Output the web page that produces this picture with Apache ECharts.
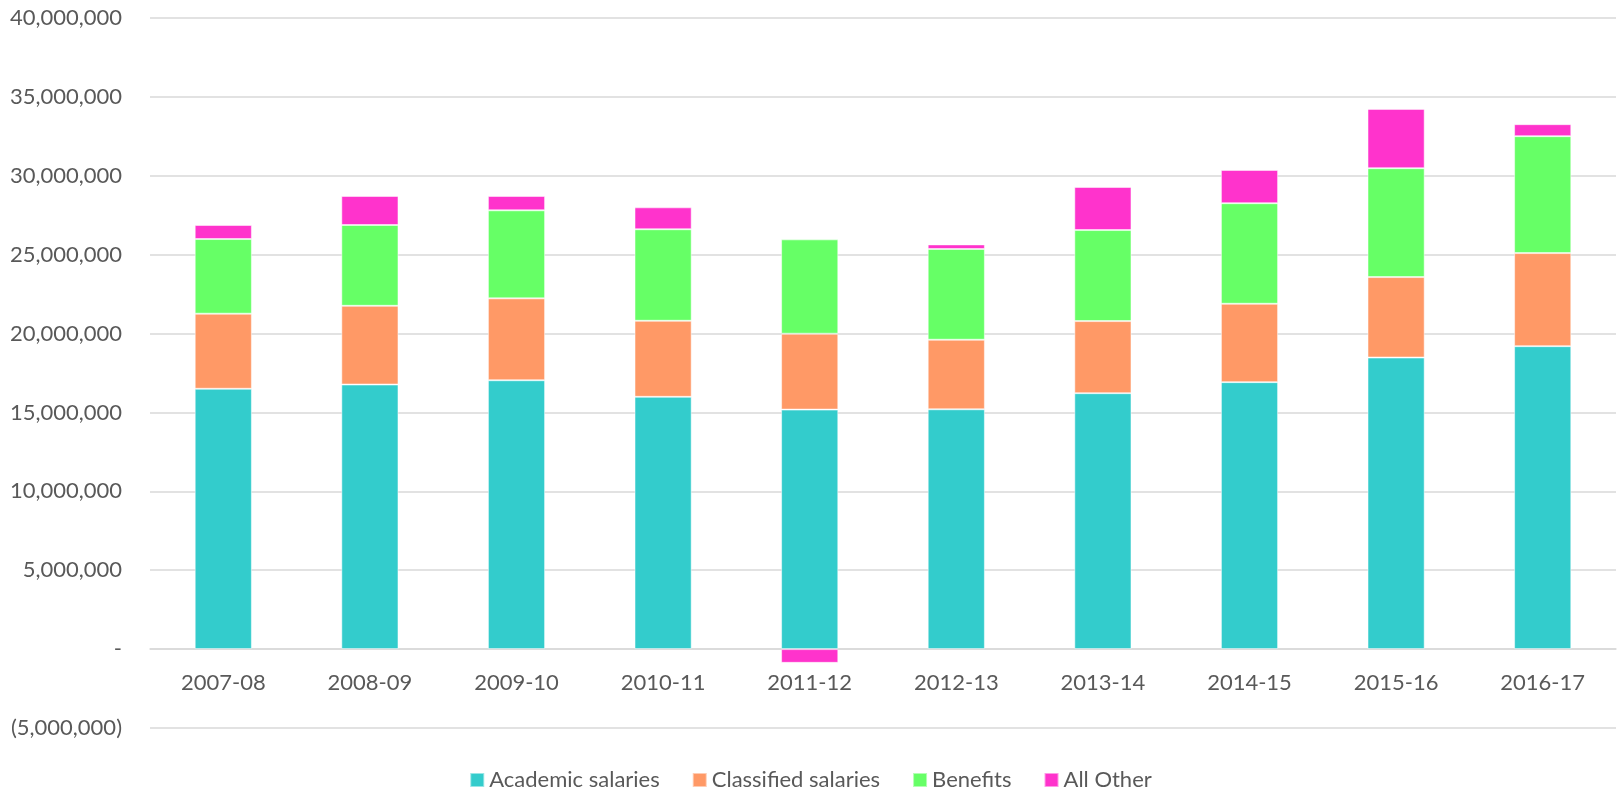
<!DOCTYPE html>
<html>
<head>
<meta charset="utf-8">
<script src="https://cdn.jsdelivr.net/npm/echarts@6/dist/echarts.min.js"></script>
<style>
html,body{margin:0;padding:0;background:#fff;}
#chart{width:1621px;height:794px;}
</style>
</head>
<body>
<div id="chart"></div>
<script>
const categories = ['2007-08','2008-09','2009-10','2010-11','2011-12','2012-13','2013-14','2014-15','2015-16','2016-17'];
const academicSalaries = [16500000,16770000,17040000,15990000,15180000,15200000,16220000,16920000,18480000,19200000];
const classifiedSalaries = [4760000,4990000,5190000,4820000,4810000,4410000,4570000,4970000,5100000,5900000];
const benefits = [4730000,5120000,5580000,5800000,5980000,5750000,5770000,6370000,6900000,7410000];
const allOther = [890000,1840000,910000,1390000,-870000,290000,2730000,2110000,3760000,760000];
const seriesNames = ['Academic salaries','Classified salaries','Benefits','All Other'];
const seriesColors = ['#33CCCC','#FF9966','#66FF66','#FF33CC'];

const FONT = 'Lato, "Open Sans", "Liberation Sans", sans-serif';
const chart = echarts.init(document.getElementById('chart'));
const dataSets = [academicSalaries, classifiedSalaries, benefits, allOther];

function fmt(v){
  if (v === 0) return '-';
  const s = Math.abs(v).toString().replace(/\B(?=(\d{3})+(?!\d))/g, ',');
  return v < 0 ? '(' + s + ')' : s;
}

chart.setOption({
  animation: false,
  backgroundColor: '#ffffff',
  color: seriesColors,
  grid: { left: 150, right: 5, top: 18, bottom: 66, containLabel: false },
  legend: {
    data: seriesNames,
    bottom: -2,
    left: 'center',
    icon: 'rect',
    itemWidth: 14,
    itemHeight: 14,
    itemGap: 32,
    textStyle: { color: '#595959', fontSize: 22, fontFamily: FONT }
  },
  xAxis: {
    type: 'category',
    data: categories,
    axisLine: { onZero: true, lineStyle: { color: '#d9d9d9', width: 1.5 } },
    axisTick: { show: false },
    axisLabel: { color: '#595959', fontSize: 22, fontFamily: FONT, margin: -56 }
  },
  yAxis: {
    type: 'value',
    min: -5000000,
    max: 40000000,
    interval: 5000000,
    axisLine: { show: false },
    axisTick: { show: false },
    splitLine: { lineStyle: { color: '#d9d9d9', width: 1.5 } },
    axisLabel: { color: '#595959', fontSize: 22, fontFamily: FONT, margin: 28, formatter: fmt }
  },
  series: seriesNames.map((n, i) => ({
    name: n,
    type: 'bar',
    stack: 'total',
    barWidth: '39%',
    data: dataSets[i],
    itemStyle: { color: seriesColors[i], borderColor: 'rgba(255,255,255,0.5)', borderWidth: 1 }
  }))
});
</script>
</body>
</html>
